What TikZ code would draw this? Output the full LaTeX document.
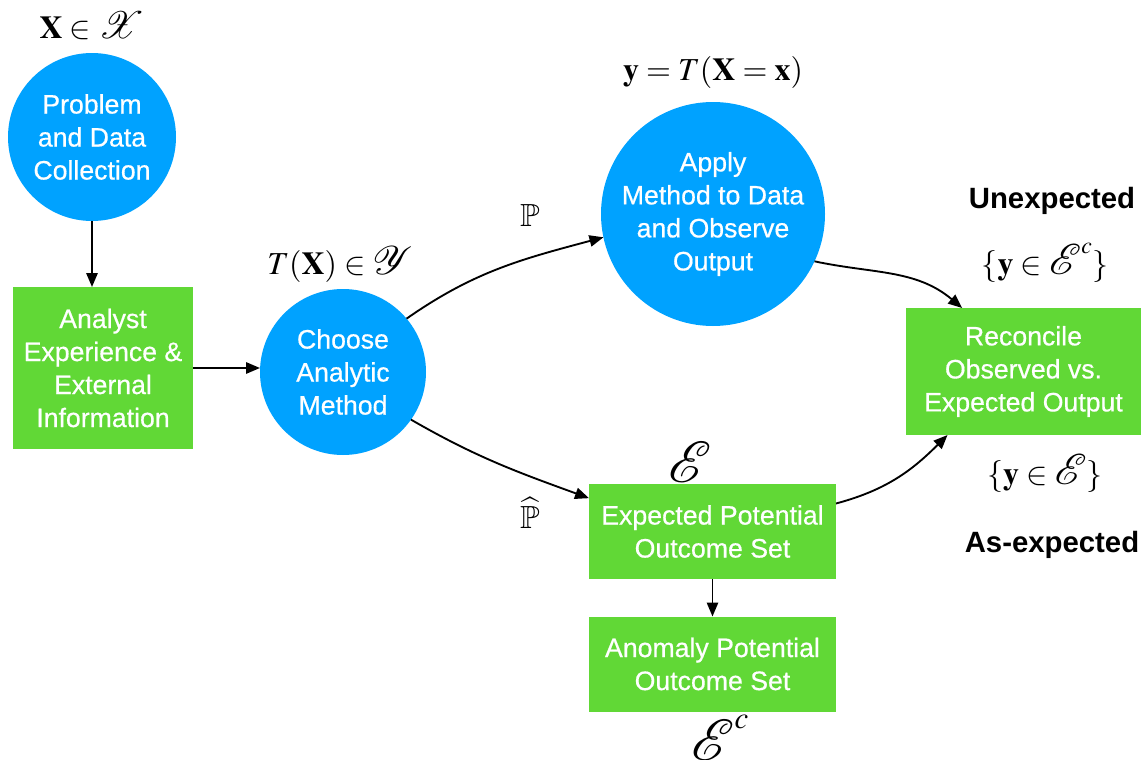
\documentclass[tikz,border=0pt]{standalone}
\usepackage{amssymb}
\usepackage{mathptmx}
\usepackage{mathrsfs}
\usepackage{graphicx}
\usepackage[no-math]{fontspec}
\newfontfamily\helv[FakeBold=0.6]{Liberation Sans}
\newfontfamily\helvb{Liberation Sans}
\newcommand{\myscr}[2][1.2]{\mathord{\scalebox{#1}{$\mathscr{#2}$}}}
\usetikzlibrary{arrows.meta}
\definecolor{kblue}{HTML}{00A2FF}
\definecolor{kgreen}{HTML}{61D836}
\tikzset{
  txt/.style={font=\helv\fontsize{20}{24.75}\selectfont, text=white, align=center, inner sep=0pt, outer sep=0pt},
  circ/.style={txt, circle, fill=kblue},
  gbox/.style={txt, rectangle, fill=kgreen},
  lbl/.style={font=\fontsize{24}{28}\selectfont, inner sep=0pt},
  blbl/.style={font=\helvb\bfseries\fontsize{22}{26}\selectfont, inner sep=0pt},
  arr/.style={-{Triangle[length=10.5pt,width=8.5pt]}, line width=1.4pt, black}
}
\begin{document}
\begin{tikzpicture}[x=0.75pt,y=-0.75pt]
\useasboundingbox (0,0) rectangle (1146,760);
\fill[white] (0,0) rectangle (1146,760);

\node[circ, minimum size=126pt] (c1) at (92,137) {Problem\\and Data\\Collection};
\node[gbox, minimum width=135pt, minimum height=121.5pt] (b1) at (103,368) {Analyst\\Experience \&\\External\\Information};
\node[circ, minimum size=124.5pt] (c2) at (343,372) {Choose\\Analytic\\Method};
\node[circ, minimum size=168pt] (c3) at (713,214) {Apply\\Method to Data\\and Observe\\Output};
\node[gbox, minimum width=176.25pt, minimum height=95.25pt] (rec) at (1023.5,371.5) {Reconcile\\Observed vs.\\Expected Output};
\node[gbox, minimum width=185.25pt, minimum height=71.25pt] (exp) at (712.5,531.5) {Expected Potential\\Outcome Set};
\node[gbox, minimum width=185.25pt, minimum height=71.25pt] (ano) at (712.5,664) {Anomaly Potential\\Outcome Set};

\node[lbl] (lx) at (92,26) {$\mathbf{X}\in\myscr[1.15]{X}$};
\node[lbl] (ly) at (340,265) {$T(\mathbf{X})\in\myscr{Y}$};
\node[lbl] (lp) at (530,215) {$\mathbb{P}$};
\node[lbl] (lph) at (530,513) {$\widehat{\mathbb{P}}$};
\node[lbl] (lyt) at (713,72) {$\mathbf{y}=T(\mathbf{X}=\mathbf{x})$};
\node[blbl] (lun) at (1052,201) {Unexpected};
\node[lbl] (lec) at (1045,263) {$\{\mathbf{y}\in\myscr[1.3]{E}^c\}$};
\node[lbl] (le) at (1045,473) {$\{\mathbf{y}\in\myscr[1.3]{E}\}$};
\node[blbl] (las) at (1052,545) {As-expected};
\node[lbl] (lE) at (690,462) {$\myscr[1.75]{E}$};
\node[lbl] (lEc) at (720,738) {$\myscr[1.75]{E}^{\scalebox{1.3}{$\scriptstyle c$}}$};

\draw[arr] (c1.south) -- (b1.north -| c1.south);
\draw[arr] (b1.east) -- (c2.west |- b1.east);
\draw[arr] (c2.40) to[out=35,in=195] (c3.192);
\draw[arr] (c2.-35) to[out=-30,in=160] ([yshift=25pt]exp.west);
\draw[arr] (c3.-25) to[out=-12,in=140] ([xshift=-46pt]rec.north);
\draw[arr] ([yshift=21pt]exp.east) to[out=15,in=225] ([xshift=-57pt]rec.south);
\draw[arr] (exp.south) -- (ano.north);
\end{tikzpicture}
\end{document}
